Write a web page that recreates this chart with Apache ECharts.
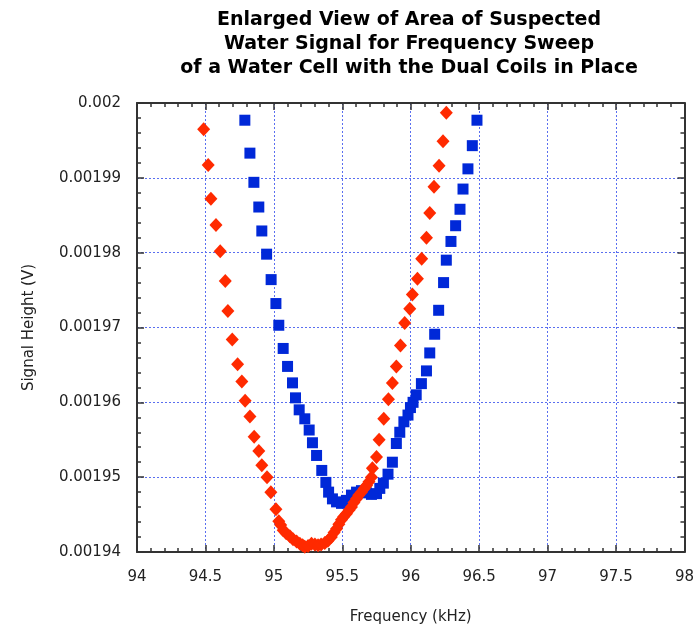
<!DOCTYPE html>
<html><head><meta charset="utf-8">
<script src="https://cdn.jsdelivr.net/npm/echarts@6/dist/echarts.min.js"></script>
<style>html,body{margin:0;padding:0;background:#fff}#c{width:697px;height:630px}</style>
</head><body><div id="c"></div>
<script>
const titleLines = ["Enlarged View of Area of Suspected", "Water Signal for Frequency Sweep", "of a Water Cell with the Dual Coils in Place"];
const xTicks = [94, 94.5, 95, 95.5, 96, 96.5, 97, 97.5, 98];
const yTicks = [0.00194, 0.00195, 0.00196, 0.00197, 0.00198, 0.00199, 0.002];

const redFreq = [94.487,94.52,94.54,94.577,94.608,94.645,94.664,94.696,94.735,94.766,94.79,94.825,94.856,94.89,94.912,94.95,94.978,95.015,95.036,
  95.05,95.068,95.09,95.117,95.14,95.166,95.19,95.21,95.226,95.25,95.275,95.3,95.323,95.345,95.372,95.395,95.42,95.44,95.458,95.475,95.494,95.51,95.53,95.55,95.567,95.585,95.604,95.62,95.64,95.66,95.677,95.695,95.713,95.72,95.75,95.769,95.803,95.837,95.866,95.895,95.925,95.956,95.993,96.012,96.049,96.08,96.115,96.139,96.17,96.207,96.236,96.26];
const redSignal = [0.0019965,0.0019917,0.0019872,0.0019837,0.0019802,0.0019762,0.0019722,0.0019684,0.0019651,0.0019628,0.0019602,0.0019581,0.0019554,0.0019535,0.0019516,0.001950,0.001948,0.0019457,0.0019441,
  0.0019436,0.0019429,0.0019425,0.0019421,0.0019417,0.0019414,0.0019411,0.0019409,0.0019407,0.0019408,0.0019411,0.001941,0.0019409,0.001941,0.0019412,0.0019415,0.001942,0.0019426,0.0019431,0.0019437,0.0019443,0.0019447,0.0019451,0.0019456,0.001946,0.0019466,0.0019471,0.0019476,0.001948,0.0019485,0.0019489,0.0019494,0.00195,0.0019512,0.0019527,0.001955,0.0019578,0.0019604,0.0019626,0.0019648,0.0019676,0.0019706,0.0019725,0.0019744,0.0019765,0.0019792,0.001982,0.0019853,0.0019888,0.0019916,0.0019949,0.0019987];

const blueFreq = [94.788,94.825,94.854,94.89,94.912,94.947,94.98,95.015,95.036,95.068,95.1,95.136,95.158,95.185,95.226,95.258,95.282,95.312,95.35,95.38,95.4,95.428,95.458,95.494,95.53,95.567,95.604,95.64,95.677,95.713,95.75,95.774,95.8,95.834,95.866,95.895,95.92,95.95,95.98,95.998,96.017,96.04,96.078,96.115,96.139,96.175,96.204,96.24,96.26,96.294,96.328,96.36,96.382,96.418,96.45,96.484];
const blueSignal = [0.0019977,0.0019933,0.0019894,0.0019861,0.0019829,0.0019798,0.0019764,0.0019732,0.0019703,0.0019672,0.0019648,0.0019626,0.0019606,0.001959,0.0019578,0.0019563,0.0019546,0.0019529,0.0019509,0.0019493,0.001948,0.0019471,0.0019467,0.0019465,0.0019469,0.0019476,0.001948,0.0019482,0.0019479,0.0019477,0.0019478,0.0019485,0.0019492,0.0019504,0.001952,0.0019545,0.001956,0.0019574,0.0019583,0.0019593,0.00196,0.001961,0.0019625,0.0019642,0.0019666,0.0019691,0.0019723,0.001976,0.001979,0.0019815,0.0019836,0.0019858,0.0019885,0.0019912,0.0019943,0.0019977];

const FONT = '"DejaVu Sans", Verdana, sans-serif';
const zip = (a,b)=>a.map((v,i)=>[v,b[i]]);
const fmtY = v => String(parseFloat(v.toFixed(6)));
const frameLine = {show:true, lineStyle:{color:'#333', width:2}};
const gridStyle = {show:true, lineStyle:{color:'#5a6ff0', type:[2,2], width:1}};
const tick = {show:true, inside:true, length:7, lineStyle:{color:'#333', width:1.5}};
const minor = {show:true, splitNumber:5, length:4, lineStyle:{color:'#333', width:1.5}};

const chart = echarts.init(document.getElementById('c'), null, {renderer:'canvas'});
chart.setOption({
  animation:false,
  backgroundColor:'#fff',
  title:{text:titleLines.join('\n'), left:404, top:3, textAlign:'center',
    textStyle:{fontFamily:FONT, fontSize:19, fontWeight:'bold', color:'#000', lineHeight:24}},
  grid:{left:137, top:103, right:12, bottom:78},
  xAxis:[
    {type:'value', min:xTicks[0], max:xTicks[xTicks.length-1], interval:0.5, position:'bottom',
     name:'Frequency (kHz)', nameLocation:'middle', nameGap:58,
     nameTextStyle:{fontFamily:FONT, fontSize:15, color:'#222'},
     axisLine:frameLine, axisTick:tick, minorTick:minor,
     axisLabel:{fontFamily:FONT, fontSize:15, color:'#222', margin:18, formatter:v=>String(parseFloat(v.toFixed(2)))},
     splitLine:gridStyle},
    {type:'value', min:xTicks[0], max:xTicks[xTicks.length-1], interval:0.5, position:'top',
     axisLine:frameLine, axisTick:tick, minorTick:minor,
     axisLabel:{show:false}, splitLine:{show:false}}
  ],
  yAxis:[
    {type:'value', min:yTicks[0], max:yTicks[yTicks.length-1], interval:0.00001, position:'left',
     name:'Signal Height (V)', nameLocation:'middle', nameGap:100, nameRotate:90,
     nameTextStyle:{fontFamily:FONT, fontSize:15, color:'#222'},
     axisLine:frameLine, axisTick:tick, minorTick:minor,
     axisLabel:{fontFamily:FONT, fontSize:15, color:'#222', margin:16, formatter:fmtY},
     splitLine:gridStyle},
    {type:'value', min:yTicks[0], max:yTicks[yTicks.length-1], interval:0.00001, position:'right',
     axisLine:frameLine, axisTick:tick, minorTick:minor,
     axisLabel:{show:false}, splitLine:{show:false}}
  ],
  series:[
    {type:'scatter', name:'blue', data:zip(blueFreq, blueSignal), symbol:'rect', symbolSize:11,
     itemStyle:{color:'#0028d8', opacity:1}, xAxisIndex:0, yAxisIndex:0, z:3},
    {type:'scatter', name:'red', data:zip(redFreq, redSignal), symbol:'diamond', symbolSize:[13,14],
     itemStyle:{color:'#ff2a00', opacity:1}, xAxisIndex:0, yAxisIndex:0, z:4}
  ]
});
</script></body></html>
